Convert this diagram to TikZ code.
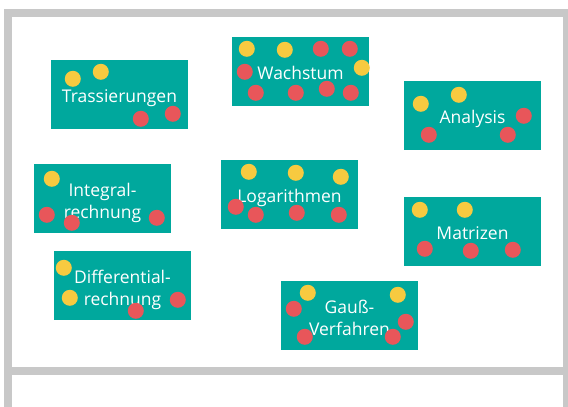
\documentclass[tikz,border=0pt]{standalone}
\usepackage{fontspec}
\setmainfont{Open Sans}
\usetikzlibrary{positioning}

\definecolor{tealbox}{RGB}{0,168,157}
\definecolor{dotyellow}{RGB}{247,202,64}
\definecolor{dotred}{RGB}{232,86,90}
\definecolor{framegray}{RGB}{200,200,200}

\tikzset{
  topic/.style={fill=tealbox, text=white, align=center, inner sep=0pt,
    minimum width=137, minimum height=69, text height=15.6pt, text depth=0pt,
    font=\fontsize{17.5}{22}\selectfont},
  topic2/.style={topic, text height=39.6pt},
  ydot/.style={fill=dotyellow},
  rdot/.style={fill=dotred},
}

\begin{document}
\begin{tikzpicture}[x=1pt, y=-1pt]
  \useasboundingbox (0,0) rectangle (568,407);
  % frame
  \draw [framegray, line width=8] (8,13) rectangle (567,371);
  \draw [framegray, line width=8] (8,371) -- (8,412) (567,371) -- (567,412);
  % topic boxes
  \node [topic] (T) at (119.5,94.5) {Trassierungen};
  \node [topic] (W) at (300.5,71.5) {Wachstum};
  \node [topic] (A) at (472.5,115.5) {Analysis};
  \node [topic2] (I) at (102.5,198.5) {Integral-\\rechnung};
  \node [topic] (L) at (289.5,194.5) {Logarithmen};
  \node [topic] (M) at (472.5,231.5) {Matrizen};
  \node [topic2] (D) at (122.5,285.5) {Differential-\\rechnung};
  \node [topic2] (G) at (349.5,315.5) {Gauß-\\Verfahren};
  % dots, offsets from each box's north west corner
  \foreach \x/\y in {22/19, 50/12}
    \fill [ydot] ([shift={(\x,\y)}]T.north west) circle (8);
  \foreach \x/\y in {90/59, 122/54}
    \fill [rdot] ([shift={(\x,\y)}]T.north west) circle (8);
  \foreach \x/\y in {15/12, 53/13, 130/31}
    \fill [ydot] ([shift={(\x,\y)}]W.north west) circle (8);
  \foreach \x/\y in {89/12, 118/12, 13/35, 24/56, 64/56, 95/52, 119/56}
    \fill [rdot] ([shift={(\x,\y)}]W.north west) circle (8);
  \foreach \x/\y in {17/23, 55/14}
    \fill [ydot] ([shift={(\x,\y)}]A.north west) circle (8);
  \foreach \x/\y in {120/35, 25/54, 104/54}
    \fill [rdot] ([shift={(\x,\y)}]A.north west) circle (8);
  \foreach \x/\y in {16/13, 61/13}
    \fill [ydot] ([shift={(\x,\y)}]M.north west) circle (8);
  \foreach \x/\y in {21/52, 67/54, 109/53}
    \fill [rdot] ([shift={(\x,\y)}]M.north west) circle (8);
  \foreach \x/\y in {18/15}
    \fill [ydot] ([shift={(\x,\y)}]I.north west) circle (8);
  \foreach \x/\y in {13/51, 38/59, 123/54}
    \fill [rdot] ([shift={(\x,\y)}]I.north west) circle (8);
  \foreach \x/\y in {10/17, 16/47}
    \fill [ydot] ([shift={(\x,\y)}]D.north west) circle (8);
  \foreach \x/\y in {124/49, 82/60}
    \fill [rdot] ([shift={(\x,\y)}]D.north west) circle (8);
  \foreach \x/\y in {28/12, 75/13, 120/17}
    \fill [ydot] ([shift={(\x,\y)}]L.north west) circle (8);
  \foreach \x/\y in {15/47, 35/55, 76/53, 118/55}
    \fill [rdot] ([shift={(\x,\y)}]L.north west) circle (8);
  \foreach \x/\y in {27/12, 117/14}
    \fill [ydot] ([shift={(\x,\y)}]G.north west) circle (8);
  \foreach \x/\y in {13/28, 24/56, 125/41, 112/56}
    \fill [rdot] ([shift={(\x,\y)}]G.north west) circle (8);
\end{tikzpicture}
\end{document}
